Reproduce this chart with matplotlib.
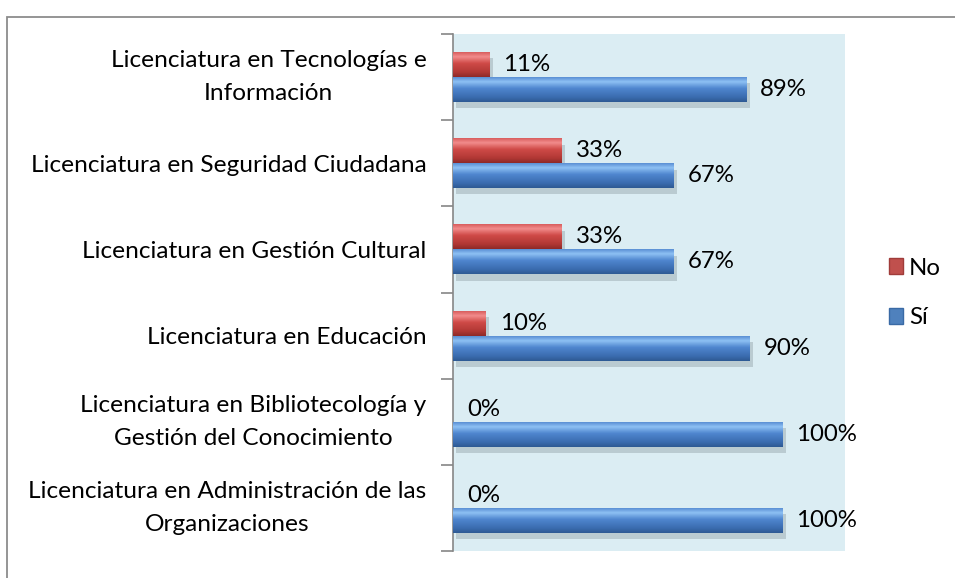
import numpy as np
import matplotlib
matplotlib.use("Agg")
import matplotlib.pyplot as plt
from matplotlib.patches import Rectangle, Patch
from matplotlib.colors import LinearSegmentedColormap
import matplotlib.patheffects as pe

plt.rcParams['font.family'] = ['Lato', 'DejaVu Sans']

categories = [
    "Licenciatura en Administración de las\nOrganizaciones",
    "Licenciatura en Bibliotecología y\nGestión del Conocimiento",
    "Licenciatura en Educación",
    "Licenciatura en Gestión Cultural",
    "Licenciatura en Seguridad Ciudadana",
    "Licenciatura en Tecnologías e\nInformación",
]
si_values = [100, 100, 90, 67, 67, 89]
no_values = [0, 0, 10, 33, 33, 11]
series_names = ["No", "Sí"]

FS = 17.6
W, H = 955, 578
fig = plt.figure(figsize=(W / 100, H / 100), dpi=100)
fig.patch.set_facecolor("white")

# outer chart frame (extends beyond the visible image)
fig.patches.append(Rectangle((7 / W, -0.2), 2.0, 1.2 - 17 / H,
                             transform=fig.transFigure, fill=False,
                             edgecolor="#8c8c8c", lw=1.3))

ax = fig.add_axes([453 / W, (H - 551) / H, 392 / W, 517 / H])
ax.set_facecolor("#dbedf3")

blue_cmap = LinearSegmentedColormap.from_list(
    "b", [(0.0, "#5a8fd4"), (0.18, "#8ec1f4"), (0.45, "#4f86cf"),
          (0.8, "#3b6db0"), (1.0, "#2e5a93")])
red_cmap = LinearSegmentedColormap.from_list(
    "r", [(0.0, "#d85e5e"), (0.18, "#f28c8c"), (0.45, "#cf4a47"),
          (0.8, "#b23835"), (1.0, "#8e2a28")])

y = np.arange(len(categories))
h = 0.29
shadow = [pe.SimplePatchShadow(offset=(2.5, -4.5), shadow_rgbFace="#7f8c92", alpha=0.35),
          pe.Normal()]

grad = np.linspace(0, 1, 64).reshape(-1, 1)

def draw(values, offset, cmap):
    bars = ax.barh(y + offset, values, height=h, color=cmap(0.5), zorder=2)
    for b in bars:
        if b.get_width() <= 0:
            continue
        b.set_path_effects(shadow)
        x0, y0 = b.get_x(), b.get_y()
        im = ax.imshow(grad, cmap=cmap, aspect="auto",
                       extent=[x0, x0 + b.get_width(), y0, y0 + b.get_height()],
                       origin="upper", zorder=3, interpolation="bilinear")
        im.set_clip_path(b)
    for yi, v in zip(y + offset, values):
        ax.annotate(f"{v}%", (v, yi), xytext=(14, 0), textcoords="offset pixels",
                    ha="left", va="center", fontsize=17.3, color="black", zorder=4)
    return bars

draw(no_values, h / 2, red_cmap)
draw(si_values, -h / 2, blue_cmap)

ax.set_xlim(0, 119)
ax.set_ylim(-0.5, len(categories) - 0.5)
ax.set_xticks([])

ax.set_yticks(np.arange(-0.5, len(categories), 1))
ax.set_yticklabels([])
ax.tick_params(axis="y", which="major", length=9, width=1.2, color="#868686", direction="out")
ax.set_yticks(y, minor=True)
ax.set_yticklabels(categories, minor=True, fontsize=FS, multialignment="center",
                   linespacing=1.7)
for lab in ax.get_yticklabels(minor=True):
    if "\n" in lab.get_text():
        lab.set_va("center")
ax.tick_params(axis="y", which="minor", length=0, pad=19)

for s in ["top", "right", "bottom"]:
    ax.spines[s].set_visible(False)
ax.spines["left"].set_color("#868686")
ax.spines["left"].set_linewidth(1.2)

handles = [Patch(facecolor="#c0504d", edgecolor="#a03c3a"),
           Patch(facecolor="#4f81bd", edgecolor="#3a6aa5")]
ax.legend(handles, series_names, loc="center left",
          bbox_to_anchor=(867 / W, (H - 293) / H), bbox_transform=fig.transFigure,
          frameon=False, fontsize=17.3, handlelength=0.6, handleheight=0.6,
          handletextpad=0.25, labelspacing=1.2)

fig.savefig("out.png", dpi=100)
